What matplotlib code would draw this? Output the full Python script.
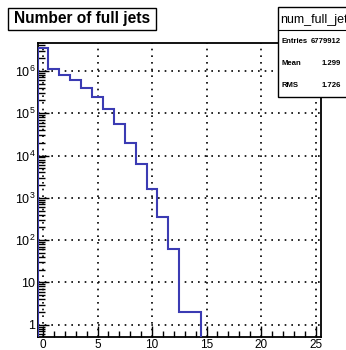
import math
import matplotlib
matplotlib.use('Agg')
import matplotlib.pyplot as plt
from matplotlib.patches import Rectangle
from matplotlib.lines import Line2D
from matplotlib.ticker import FixedLocator, LogLocator, FuncFormatter, NullFormatter

plt.rcParams['font.family'] = ['Liberation Sans', 'DejaVu Sans']
plt.rcParams['mathtext.fontset'] = 'custom'
plt.rcParams['mathtext.rm'] = 'Liberation Sans'

# number of full jets per event, bins centred on integers 0..14
n_jets = list(range(15))
counts = [3.40e6, 1.13e6, 8.1e5, 5.96e5, 3.91e5, 2.42e5, 1.26e5, 5.55e4,
          1.97e4, 6.35e3, 1.64e3, 361, 60, 2, 2]
edges = [n - 0.5 for n in n_jets] + [n_jets[-1] + 0.5]

hist_title = 'Number of full jets'
stat_name = 'num_full_jets'
stat_rows = [('Entries', '6779912'), ('Mean', '1.299'), ('RMS', '1.726')]

W, H = 346, 350
fig = plt.figure(figsize=(W / 100, H / 100), dpi=100)
fig.patch.set_facecolor('white')

# frame: x from -0.5 to 25.5
x0, x1, y0, y1 = 37.6, 321.0, 43.3, 337.3
ax = fig.add_axes([x0 / W, 1 - y1 / H, (x1 - x0) / W, (y1 - y0) / H])

ax.stairs(counts, edges, baseline=0.1, color='#3b3bb3', lw=1.5, zorder=3)

ax.set_yscale('log')
ax.set_xlim(-0.5, 25.5)
ax.set_ylim(0.503, 4.5e6)

ax.xaxis.set_major_locator(FixedLocator([0, 5, 10, 15, 20, 25]))
ax.xaxis.set_minor_locator(FixedLocator(range(0, 26)))
ax.yaxis.set_major_locator(LogLocator(base=10, numticks=20))
ax.yaxis.set_minor_locator(LogLocator(base=10, subs=range(2, 10), numticks=20))
ax.yaxis.set_minor_formatter(NullFormatter())


def log_label(v, pos):
    e = int(round(math.log10(v)))
    if e == 0:
        return '1'
    if e == 1:
        return '10'
    return r'$10^{%d}$' % e


ax.yaxis.set_major_formatter(FuncFormatter(log_label))

ax.tick_params(which='both', direction='in', top=False, right=False,
               labelsize=8.5, colors='black', width=1.0)
ax.tick_params(axis='x', which='major', length=8, pad=1.0)
ax.tick_params(axis='y', which='major', length=8, pad=1.5, labelsize=9)
ax.tick_params(which='minor', length=4)
ax.tick_params(axis='y', which='minor', length=5)

for s in ax.spines.values():
    s.set_linewidth(1.3)

ax.grid(True, which='major', color='black', linestyle=(0, (1, 3)), lw=1.2)

# title pave
tx0, ty0, tx1, ty1 = 7.5, 7.7, 156, 30
fig.add_artist(Rectangle((tx0 / W, 1 - ty1 / H), (tx1 - tx0) / W, (ty1 - ty0) / H,
                         transform=fig.transFigure, facecolor='white',
                         edgecolor='black', lw=1.0))
fig.text((tx0 + tx1) / 2 / W, 1 - (ty0 + ty1) / 2 / H, hist_title,
         ha='center', va='center', fontsize=11.2, fontweight='bold')

# statistics box (runs off the right edge)
sx0, sy0, sx1, sy1 = 278.3, 7.3, 420, 96.7
fig.add_artist(Rectangle((sx0 / W, 1 - sy1 / H), (sx1 - sx0) / W, (sy1 - sy0) / H,
                         transform=fig.transFigure, facecolor='white',
                         edgecolor='black', lw=1.0, zorder=5))
hdr = 30.0
fig.add_artist(Line2D([sx0 / W, 1.0], [1 - hdr / H, 1 - hdr / H],
                      transform=fig.transFigure, color='black', lw=0.8, zorder=6))
fig.text(280 / W, 1 - 19.5 / H, stat_name, ha='left', va='center',
         fontsize=9.0, zorder=7)
row_h = (sy1 - hdr) / len(stat_rows)
for i, (lab, val) in enumerate(stat_rows):
    yc = hdr + row_h * (i + 0.5)
    fig.text(282 / W, 1 - yc / H, lab, ha='left', va='center',
             fontsize=5.6, fontweight='bold', zorder=7)
    fig.text(341 / W, 1 - yc / H, val, ha='right', va='center',
             fontsize=5.6, fontweight='bold', zorder=7)

fig.savefig('out.png', dpi=100, facecolor='white')
